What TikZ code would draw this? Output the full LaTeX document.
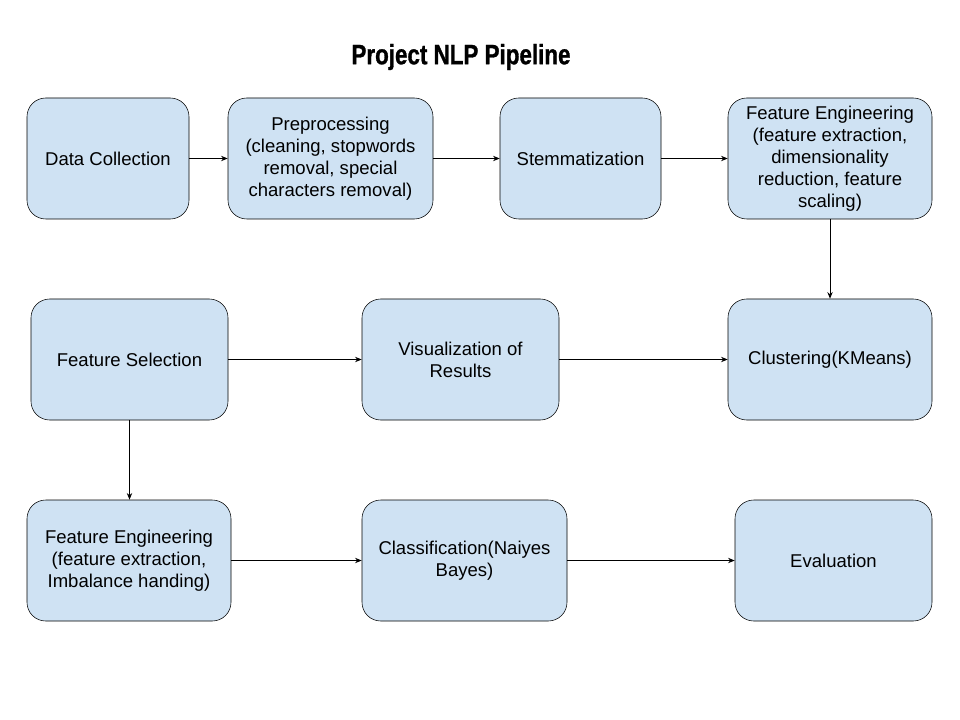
\documentclass[tikz,border=0pt]{standalone}
\usepackage{fontspec}
\setmainfont{Liberation Sans}
\newfontfamily\titlefont{Liberation Sans}[FakeStretch=0.8,FakeBold=1]
\usetikzlibrary{arrows.meta}
\definecolor{boxblue}{HTML}{CFE2F3}
\tikzset{
  stage/.style={draw=black,fill=boxblue,rounded corners=14pt,align=center,
    minimum height=90.75pt,inner sep=0pt,font=\fontsize{13.9}{16.5}\selectfont},
  flow/.style={-{Stealth[length=5pt,width=4pt]},line width=0.75pt}
}
\begin{document}
\begin{tikzpicture}[x=0.75pt,y=-0.75pt]
\useasboundingbox[fill=white] (0,0) rectangle (960,720);
%title
\node (title) at (461,57) {\titlefont\bfseries\fontsize{21}{24}\selectfont Project NLP Pipeline};
%first row
\node[stage,minimum width=121.5pt] (collect) at (108,158.5) {Data Collection};
\node[stage,minimum width=153.75pt] (prep) at (330.5,158.5) {Preprocessing\\(cleaning, stopwords\\removal, special\\characters removal)};
\node[stage,minimum width=120.75pt] (stem) at (580.5,158.5) {Stemmatization};
\node[stage,minimum width=153pt] (feng) at (830,158.5) {Feature Engineering\\(feature extraction,\\dimensionality\\reduction, feature\\scaling)};
%second row
\node[stage,minimum width=147.75pt] (fsel) at (129.5,359.5) {Feature Selection};
\node[stage,minimum width=147.75pt] (vis) at (460.5,359.5) {Visualization of\\Results};
\node[stage,minimum width=153pt] (clust) at (830,359.5) {Clustering(KMeans)};
%third row
\node[stage,minimum width=153pt] (fimb) at (129,560.5) {Feature Engineering\\(feature extraction,\\Imbalance handing)};
\node[stage,minimum width=153.75pt] (clf) at (464.5,560.5) {Classification(Naiyes\\Bayes)};
\node[stage,minimum width=147.75pt] (eval) at (833.5,560.5) {Evaluation};
%arrows
\draw[flow] (collect) -- (prep);
\draw[flow] (prep) -- (stem);
\draw[flow] (stem) -- (feng);
\draw[flow] (feng) -- (clust);
\draw[flow] (fsel) -- (vis);
\draw[flow] (vis) -- (clust);
\draw[flow] (fsel.south) -- (fimb.north -| fsel.south);
\draw[flow] (fimb) -- (clf);
\draw[flow] (clf) -- (eval);
\end{tikzpicture}
\end{document}
